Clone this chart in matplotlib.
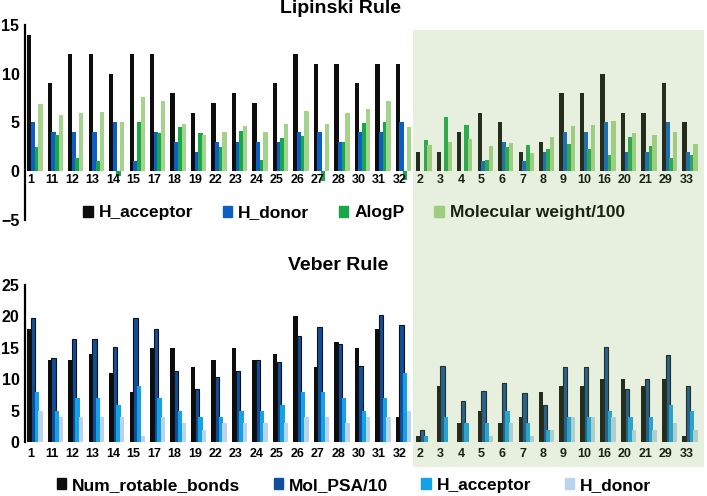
import numpy as np
import matplotlib
matplotlib.use('Agg')
import matplotlib.pyplot as plt
from matplotlib.patches import Patch, Rectangle

plt.rcParams['font.family'] = ['Liberation Sans', 'DejaVu Sans']
plt.rcParams['font.weight'] = 'bold'

compounds = ['1', '11', '12', '13', '14', '15', '17', '18', '19', '22', '23', '24', '25', '26', '27', '28',
             '30', '31', '32', '2', '3', '4', '5', '6', '7', '8', '9', '10', '16', '20', '21', '29', '33']

# Lipinski rule
h_acceptor = [14, 9, 12, 12, 10, 12, 12, 8, 6, 7, 8, 7, 9, 12, 11, 11, 9, 11, 11,
              2, 2, 4, 6, 5, 2, 3, 8, 8, 10, 6, 6, 9, 5]
h_donor = [5, 4, 4, 4, 5, 1, 4, 3, 2, 3, 3, 3, 3, 4, 4, 3, 4, 4, 5,
           0, 0, 0, 1, 3, 1, 2, 4, 4, 5, 2, 2, 5, 2]
alogp = [2.5, 3.7, 1.4, 1.1, -0.5, 5.0, 3.9, 4.5, 3.9, 2.5, 4.1, 1.2, 3.4, 3.6, -1.0, 3.0, 4.9, 5.0, -0.85,
         3.2, 5.6, 4.7, 1.2, 2.5, 2.7, 2.3, 2.8, 2.3, 1.7, 3.5, 2.6, 1.4, 1.7]
mw_100 = [6.9, 5.8, 6.0, 6.1, 5.0, 7.6, 7.2, 4.85, 3.7, 4.0, 4.6, 4.0, 4.8, 6.2, 4.8, 6.0, 6.35, 7.2, 4.5,
          2.7, 3.0, 3.3, 2.6, 2.9, 1.9, 3.5, 4.6, 4.7, 5.2, 3.9, 3.7, 4.05, 2.8]

# Veber rule
num_rot_bonds = [18, 13, 13, 14, 11, 8, 15, 15, 12, 13, 15, 13, 14, 20, 12, 16, 15, 18, 4,
                 1, 9, 3, 5, 3, 4, 8, 9, 9, 10, 10, 9, 10, 1]
mol_psa_10 = [19.8, 13.4, 16.4, 16.4, 15.2, 19.7, 18.0, 11.3, 8.5, 10.4, 11.3, 13.0, 12.75, 16.9, 18.3, 15.7,
              12.05, 20.3, 18.7, 2.0, 12.1, 6.6, 8.1, 9.4, 7.9, 5.9, 12.0, 12.0, 15.1, 8.5, 10.1, 13.9, 8.9]
v_h_acceptor = [8, 5, 7, 7, 6, 9, 7, 5, 4, 4, 5, 5, 6, 8, 8, 7, 5, 7, 11,
                1, 4, 3, 3, 5, 3, 2, 4, 4, 5, 4, 4, 6, 5]
v_h_donor = [5, 4, 4, 4, 4, 1, 4, 3, 2, 3, 3, 3, 3, 4, 4, 3, 4, 4, 5,
             0, 0, 0, 1, 3, 1, 2, 4, 4, 4, 2, 2, 3, 2]

x = np.arange(len(compounds))
bar_w = 0.21
offsets = [-0.27, -0.09, 0.09, 0.27]

fig = plt.figure(figsize=(7.07, 4.96), dpi=100)

ax1 = fig.add_axes([0.0354, 0.5565, 0.955, 0.3931])
top_series = [h_acceptor, h_donor, alogp, mw_100]
top_colors = ['#0d0d0d', '#0a5ec4', '#18a84a', '#a4d48c']
top_labels = ['H_acceptor', 'H_donor', 'AlogP', 'Molecular weight/100']
for vals, off, c in zip(top_series, offsets, top_colors):
    ax1.bar(x + off, vals, width=bar_w, color=c, linewidth=0)
ax1.set_ylim(-5, 15)
ax1.set_yticks([-5, 0, 5, 10, 15])
ax1.set_xlim(-0.48, 32.5)

ax2 = fig.add_axes([0.0354, 0.1083, 0.955, 0.3171])
bot_series = [num_rot_bonds, mol_psa_10, v_h_acceptor, v_h_donor]
bot_colors = ['#0d0d0d', '#0e4f9e', '#14a2e6', '#b9d4ec']
bot_labels = ['Num_rotable_bonds', 'Mol_PSA/10', 'H_acceptor', 'H_donor']
for i, (vals, off, c) in enumerate(zip(bot_series, offsets, bot_colors)):
    ax2.bar(x + off, vals, width=bar_w, color=c,
            edgecolor='#111111' if i == 1 else 'none', linewidth=0.8 if i == 1 else 0)
ax2.set_ylim(0, 25)
ax2.set_yticks([0, 5, 10, 15, 20, 25])
ax2.set_xlim(-0.48, 32.5)

for ax in (ax1, ax2):
    ax.patch.set_visible(False)
    for s in ('top', 'right'):
        ax.spines[s].set_visible(False)
    ax.spines['bottom'].set_position(('data', 0))
    ax.spines['bottom'].set_visible(False)
    ax.spines['left'].set_linewidth(1.6)
    ax.set_xticks(x - 0.18)
    ax.set_xticklabels(compounds, fontsize=9, fontweight='bold')
    ax.tick_params(axis='y', length=0, pad=4, labelsize=11.5)
ax1.tick_params(axis='x', length=0, pad=2)
ax2.tick_params(axis='x', length=0, pad=4)

fig.text(0.481, 0.982, 'Lipinski Rule', ha='center', va='center', fontsize=14, fontweight='bold')
fig.text(0.478, 0.4657, 'Veber Rule', ha='center', va='center', fontsize=14, fontweight='bold')

leg_kw = dict(loc='center', ncol=4, frameon=False, bbox_transform=fig.transFigure,
              prop={'size': 12.5, 'weight': 'bold'}, handlelength=0.55, handleheight=0.55,
              handletextpad=0.35, borderaxespad=0)
ax1.legend([Patch(color=c) for c in top_colors], top_labels,
           bbox_to_anchor=(0.5007, 0.5706), columnspacing=1.7, **leg_kw)
ax2.legend([Patch(color=c) for c in bot_colors], bot_labels,
           bbox_to_anchor=(0.5007, 0.022), columnspacing=1.9, **leg_kw)

# green highlight over the second compound series
fig.add_artist(Rectangle((0.584, 0.0585), 0.4116, 0.881, transform=fig.transFigure,
                         facecolor='#87b45a', edgecolor='none', alpha=0.2, zorder=10))

plt.savefig('out.png', dpi=100)
